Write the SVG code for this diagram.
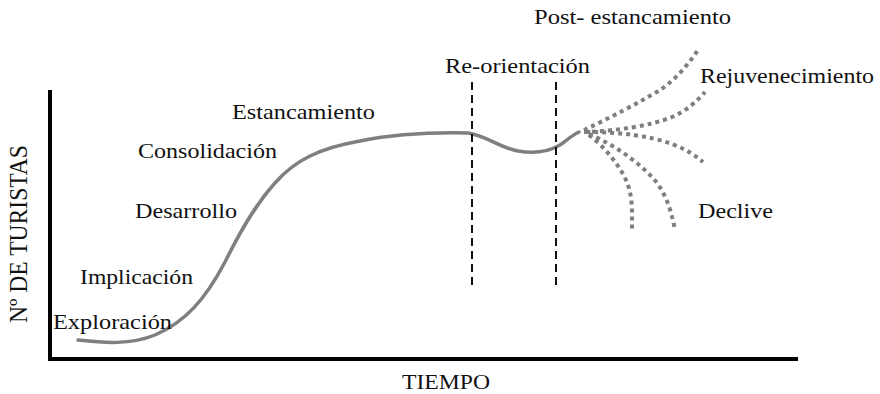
<svg xmlns="http://www.w3.org/2000/svg" width="880" height="394" viewBox="0 0 880 394">
<style>
.t{font-size:21px;fill:#111}
.curve{fill:none;stroke:#7f7f7f;stroke-width:3.5;stroke-linecap:round}
.dot{fill:none;stroke:#7f7f7f;stroke-width:4;stroke-dasharray:4 4}
.dash{fill:none;stroke:#111;stroke-width:2;stroke-dasharray:8 5}
.axis{fill:none;stroke:#000;stroke-width:4}
</style>
<rect width="880" height="394" fill="#fff"/>
<g id="axes">
<path class="axis" d="M50,90 V359 H798"/>
</g>
<g id="connectors">
<path class="curve" d="M78,340 C105,343 130,345 155,335 C185,322 205,300 225,262 C240,232 255,205 275,183 C295,160 320,148 360,141 C390,135 420,132 468,133 C485,135 500,148 518,151 C535,154 548,152 560,145 C566,141 572,135 579,132"/>
<path class="dash" d="M472,82 V288"/>
<path class="dash" d="M556,82 V288"/>
<path class="dot" d="M584,130 C610,118 640,102 660,90 C675,80 688,65 698,50"/>
<path class="dot" d="M584,132 C615,131 650,126 672,117 C688,110 698,100 705,92"/>
<path class="dot" d="M586,132 C620,132 650,136 672,144 C688,150 697,157 703,162"/>
<path class="dot" d="M589,134 C615,145 643,165 657,183 C668,198 672,215 675,230"/>
<path class="dot" d="M589,135 C605,147 622,168 628,185 C633,200 632,215 632,230"/>
</g>
<g font-family="'Liberation Serif', 'DejaVu Serif', serif">
<g id="post"><text class="t" x="534" y="24" textLength="197" lengthAdjust="spacingAndGlyphs">Post- estancamiento</text></g>
<g id="reorientacion"><text class="t" x="445" y="73" textLength="145" lengthAdjust="spacingAndGlyphs">Re-orientación</text></g>
<g id="rejuvenecimiento"><text class="t" x="700" y="83" textLength="174" lengthAdjust="spacingAndGlyphs">Rejuvenecimiento</text></g>
<g id="declive"><text class="t" x="698" y="218" textLength="75" lengthAdjust="spacingAndGlyphs">Declive</text></g>
<g id="estancamiento"><text class="t" x="232" y="119" textLength="143" lengthAdjust="spacingAndGlyphs">Estancamiento</text></g>
<g id="consolidacion"><text class="t" x="138" y="158" textLength="139" lengthAdjust="spacingAndGlyphs">Consolidación</text></g>
<g id="desarrollo"><text class="t" x="135" y="218" textLength="102" lengthAdjust="spacingAndGlyphs">Desarrollo</text></g>
<g id="implicacion"><text class="t" x="80" y="284" textLength="113" lengthAdjust="spacingAndGlyphs">Implicación</text></g>
<g id="exploracion"><text class="t" x="53" y="329" textLength="119" lengthAdjust="spacingAndGlyphs">Exploración</text></g>
<g id="tiempo"><text class="t" x="402" y="389" textLength="88" lengthAdjust="spacingAndGlyphs">TIEMPO</text></g>
<g id="turistas"><text class="t" transform="translate(27,323) rotate(-90) scale(1,1.15)" x="0" y="0" textLength="178" lengthAdjust="spacingAndGlyphs">Nº DE TURISTAS</text></g>
</g>
</svg>
